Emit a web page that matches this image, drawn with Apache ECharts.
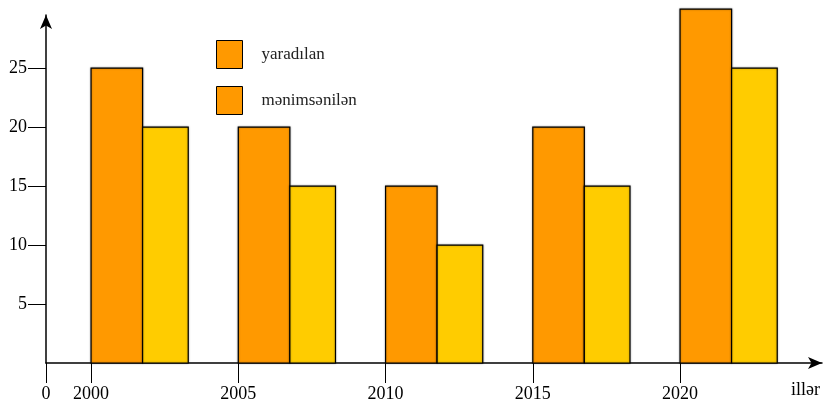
<!DOCTYPE html>
<html>
<head>
<meta charset="utf-8">
<script src="https://cdn.jsdelivr.net/npm/echarts@6/dist/echarts.min.js"></script>
<style>
  html, body { margin: 0; padding: 0; background: #fff; }
  #chart { width: 823px; height: 405px; }
</style>
</head>
<body>
<div id="chart"></div>
<script>
// data
const years = [2000, 2005, 2010, 2015, 2020]
const yaradilan = [25, 20, 15, 20, 30]
const menimsenilen = [20, 15, 10, 15, 25]
const yTicks = [5, 10, 15, 20, 25]

const xMin = 1998.47
const xMax = 2024.82
const orangeW = 1.75
const yellowW = 1.55

function barRenderer(offset, width, color) {
  return function (params, api) {
    let x = api.value(0) + offset
    let p0 = api.coord([x, 0])
    let p1 = api.coord([x + width, api.value(1)])
    return {
      type: 'rect',
      shape: { x: p0[0], y: p1[1], width: p1[0] - p0[0], height: p0[1] - p1[1] },
      style: { fill: color, stroke: '#000', lineWidth: 1.2, shadowColor: 'rgba(0,0,0,0.35)', shadowBlur: 2 }
    }
  }
}

let chart = echarts.init(document.getElementById('chart'))
let serif = '"Liberation Serif", "DejaVu Serif", serif'

let option = {
  animation: false,
  grid: { left: 46, right: 0, top: 15, bottom: 42 },
  legend: {
    orient: 'vertical',
    left: 211,
    top: 35,
    itemWidth: 26,
    itemHeight: 28,
    itemGap: 17,
    icon: 'rect',
    textStyle: { fontFamily: serif, fontSize: 17, color: '#222', padding: [0, 0, 0, 14] },
    data: [
      { name: 'yaradılan', itemStyle: { color: '#FF9900', borderColor: '#000', borderWidth: 1 } },
      { name: 'mənimsənilən', itemStyle: { color: '#FF9900', borderColor: '#000', borderWidth: 1 } }
    ]
  },
  xAxis: {
    type: 'value',
    min: xMin,
    max: xMax,
    splitLine: { show: false },
    name: 'illər',
    nameLocation: 'end',
    nameGap: -2,
    nameTextStyle: { fontFamily: serif, fontSize: 18, color: '#000', align: 'right', verticalAlign: 'top', padding: [18, 0, 0, 0] },
    axisLine: { lineStyle: { color: '#000', width: 1.5 }, symbol: ['none', 'arrow'], symbolSize: [9, 14] },
    axisTick: { length: 20, lineStyle: { color: '#000' }, customValues: [xMin].concat(years) },
    axisLabel: {
      margin: 22,
      fontFamily: serif,
      fontSize: 18,
      color: '#000',
      customValues: [xMin].concat(years),
      formatter: (v) => v < 1999 ? '0' : String(Math.round(v))
    }
  },
  yAxis: {
    type: 'value',
    min: 0,
    max: 29.5,
    splitLine: { show: false },
    axisLine: { show: true, lineStyle: { color: '#000', width: 1.5 }, symbol: ['none', 'arrow'], symbolSize: [9, 14] },
    axisTick: { length: 18, lineStyle: { color: '#000' }, customValues: yTicks },
    axisLabel: { margin: 19, fontFamily: serif, fontSize: 18, color: '#000', customValues: yTicks }
  },
  series: [
    {
      name: 'yaradılan',
      type: 'custom',
      clip: false,
      itemStyle: { color: '#FF9900' },
      renderItem: barRenderer(0, orangeW, '#FF9900'),
      data: years.map((y, i) => [y, yaradilan[i]])
    },
    {
      name: 'mənimsənilən',
      type: 'custom',
      clip: false,
      itemStyle: { color: '#FFCC00' },
      renderItem: barRenderer(orangeW, yellowW, '#FFCC00'),
      data: years.map((y, i) => [y, menimsenilen[i]])
    }
  ]
}
chart.setOption(option)
</script>
</body>
</html>
